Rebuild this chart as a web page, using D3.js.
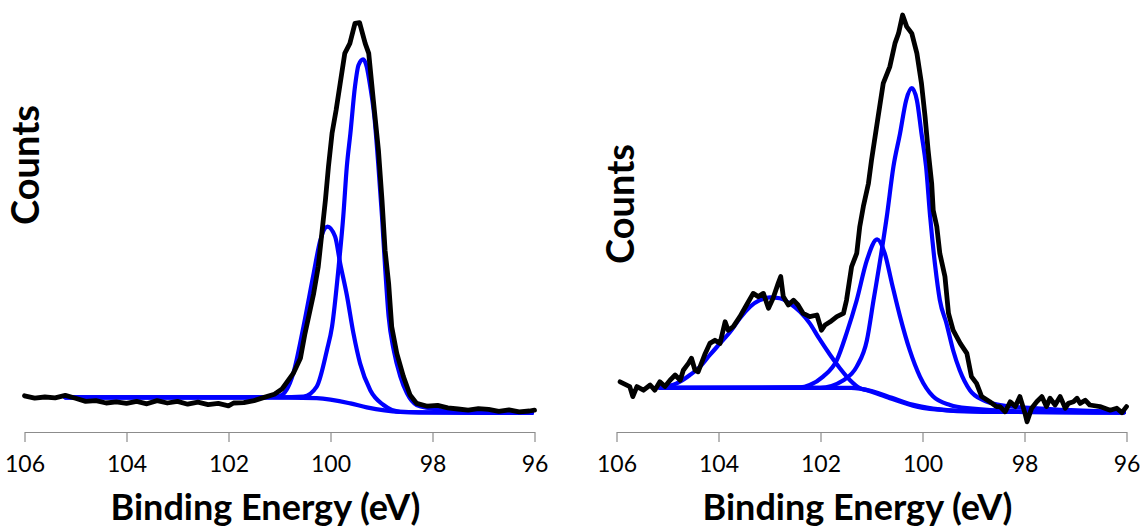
<!DOCTYPE html>
<html>
<head>
<meta charset="utf-8">
<script src="https://cdn.jsdelivr.net/npm/d3@7"></script>
<style>
  body { margin: 0; background: #fff; }
  svg { display: block; }
</style>
</head>
<body>
<svg id="chart"></svg>
<script>
// Binding energy ticks (eV), shared by both panels
const energyTicks = [106, 104, 102, 100, 98, 96];

// Left panel: measured spectrum [eV, counts a.u.]
const leftMeasured = [
  [106.0, 4.8], [105.8, 4.2], [105.6, 4.5], [105.4, 4.3], [105.2, 4.9], [105.0, 4.2],
  [104.8, 3.4], [104.6, 3.6], [104.4, 3.0], [104.2, 3.3], [104.0, 2.9], [103.8, 3.4],
  [103.6, 2.8], [103.4, 3.6], [103.2, 3.0], [103.0, 3.4], [102.8, 2.7], [102.6, 3.2],
  [102.4, 2.6], [102.2, 2.9], [102.0, 2.3], [101.9, 3.0], [101.7, 3.1], [101.5, 3.6],
  [101.3, 4.4], [101.1, 5.2], [100.95, 6.5], [100.73, 10.4], [100.59, 14.2], [100.5, 20.4],
  [100.33, 30.4], [100.24, 37.1], [100.17, 45.4], [100.1, 53.7], [100.04, 62.1], [99.97, 70.4],
  [99.89, 76.2], [99.81, 82.9], [99.72, 90.4], [99.62, 92.9], [99.52, 97.9], [99.43, 98.1],
  [99.32, 92.9], [99.25, 90.4], [99.16, 78.7], [99.06, 66.2], [98.99, 53.7], [98.93, 41.2],
  [98.86, 32.9], [98.8, 22.1], [98.7, 15.4], [98.57, 9.6], [98.44, 5.0], [98.31, 2.9],
  [98.1, 2.2], [97.9, 2.4], [97.7, 1.8], [97.5, 1.5], [97.3, 1.2], [97.1, 1.6],
  [96.9, 1.4], [96.7, 0.9], [96.5, 1.3], [96.3, 0.8], [96.1, 1.0], [96.0, 1.2]
];

// Left panel: fitted components
const leftPeakMain = [
  [105.2, 4.4], [101.0, 4.4], [100.53, 4.6], [100.27, 7.1], [100.07, 16.2], [99.97, 22.1],
  [99.84, 37.1], [99.75, 49.6], [99.68, 62.1], [99.61, 70.4], [99.52, 82.1], [99.45, 87.5],
  [99.36, 88.9], [99.29, 87.1], [99.22, 82.1], [99.14, 74.6], [99.06, 62.1], [98.99, 49.6],
  [98.93, 37.1], [98.86, 24.6], [98.76, 16.2], [98.63, 9.6], [98.5, 5.4], [98.31, 2.5],
  [98.05, 1.7], [97.5, 0.8], [96.05, 0.5]
];
const leftPeakSecond = [
  [105.2, 4.4], [101.3, 4.4], [100.99, 4.8], [100.73, 10.4], [100.53, 22.1], [100.33, 35.4],
  [100.2, 43.7], [100.06, 47.1], [99.91, 44.6], [99.81, 37.9], [99.68, 30.0], [99.55, 20.4],
  [99.42, 12.9], [99.22, 6.2], [98.96, 2.5], [98.63, 0.8], [97.5, 0.6], [96.05, 0.5]
];
const leftBackground = [
  [105.2, 4.4], [101.4, 4.4], [100.27, 4.2], [99.61, 2.9], [99.29, 1.9], [98.63, 0.8],
  [97.65, 0.6], [96.05, 0.5]
];

// Right panel: measured spectrum
const rightMeasured = [
  [105.93, 8.3], [105.74, 7.1], [105.68, 4.6], [105.6, 7.1], [105.47, 6.2], [105.34, 7.5],
  [105.25, 6.2], [105.15, 8.3], [105.05, 7.1], [104.95, 8.7], [104.85, 10.0], [104.75, 8.7],
  [104.69, 11.2], [104.59, 12.9], [104.53, 14.2], [104.46, 11.2], [104.4, 10.8], [104.26, 15.4],
  [104.17, 17.9], [104.07, 18.7], [103.97, 17.9], [103.87, 23.3], [103.81, 21.2], [103.71, 22.1],
  [103.58, 24.6], [103.45, 27.5], [103.32, 30.4], [103.22, 29.6], [103.12, 30.4], [103.02, 26.7],
  [102.93, 29.2], [102.83, 32.9], [102.78, 34.6], [102.73, 29.6], [102.63, 27.5], [102.53, 28.7],
  [102.44, 27.5], [102.34, 25.4], [102.21, 24.6], [102.07, 25.0], [101.98, 21.2], [101.91, 22.5],
  [101.81, 23.3], [101.68, 24.6], [101.55, 25.4], [101.49, 28.7], [101.39, 37.1], [101.29, 40.4],
  [101.23, 47.1], [101.16, 52.1], [101.06, 57.9], [101.0, 63.7], [100.87, 74.6], [100.77, 82.9],
  [100.64, 87.1], [100.54, 92.9], [100.47, 95.4], [100.39, 100.0], [100.31, 97.1], [100.21, 95.4],
  [100.11, 90.4], [100.02, 82.9], [99.95, 74.6], [99.89, 66.2], [99.82, 57.9], [99.79, 51.2],
  [99.72, 47.1], [99.66, 40.4], [99.56, 34.6], [99.49, 25.4], [99.4, 21.2], [99.26, 17.9],
  [99.13, 15.4], [99.04, 9.6], [98.94, 7.9], [98.84, 4.6], [98.68, 3.3], [98.55, 2.1],
  [98.48, 2.1], [98.38, 0.8], [98.28, 3.3], [98.18, 2.1], [98.09, 4.6], [97.99, 0.4],
  [97.95, -1.7], [97.86, 1.7], [97.76, 3.3], [97.66, 4.6], [97.57, 2.1], [97.5, 4.2],
  [97.4, 2.5], [97.3, 4.6], [97.2, 1.7], [97.14, 2.9], [97.04, 3.3], [96.97, 4.2],
  [96.91, 2.9], [96.81, 3.7], [96.72, 2.5], [96.52, 2.1], [96.32, 1.2], [96.19, 1.7],
  [96.09, 0.6], [96.0, 2.1]
];

// Right panel: fitted components
const rightPeakBroad = [
  [105.15, 6.8], [104.82, 7.9], [104.56, 10.0], [104.36, 12.1], [104.17, 15.0], [103.97, 17.9],
  [103.77, 20.8], [103.58, 24.2], [103.38, 27.1], [103.19, 28.7], [102.99, 29.4], [102.8, 29.2],
  [102.6, 27.9], [102.4, 25.8], [102.21, 22.9], [102.03, 19.2], [101.81, 15.0], [101.62, 11.7],
  [101.42, 8.7], [101.23, 6.7], [101.09, 6.2], [100.64, 4.2], [100.11, 2.1], [99.46, 1.1],
  [98.81, 0.8], [96.05, 0.6]
];
const rightPeakMain = [
  [105.15, 6.8], [102.4, 6.9], [102.01, 6.8], [101.55, 8.7], [101.29, 12.1], [101.09, 18.7],
  [100.96, 28.7], [100.83, 38.7], [100.7, 49.6], [100.57, 62.1], [100.44, 70.4], [100.32, 78.7],
  [100.21, 81.7], [100.11, 78.7], [100.02, 70.4], [99.93, 62.1], [99.85, 49.6], [99.75, 37.1],
  [99.66, 28.7], [99.53, 22.9], [99.4, 16.2], [99.27, 11.2], [99.07, 6.2], [98.81, 3.7],
  [98.48, 2.5], [97.83, 1.7], [96.05, 0.8]
];
const rightPeakSecond = [
  [105.15, 6.8], [102.4, 6.9], [102.21, 7.5], [101.95, 9.6], [101.68, 13.7], [101.49, 20.4],
  [101.29, 28.7], [101.09, 38.7], [100.89, 43.9], [100.74, 40.4], [100.6, 32.9], [100.44, 24.6],
  [100.25, 16.2], [100.05, 9.6], [99.79, 4.6], [99.46, 2.5], [99.13, 1.7], [98.0, 0.9],
  [96.05, 0.7]
];
const rightBackground = [
  [105.15, 6.8], [101.4, 6.8], [101.0, 6.0], [100.6, 4.3], [100.2, 2.6], [99.8, 1.6],
  [99.2, 1.0], [96.05, 0.6]
];

const width = 1144, height = 527;
const axisY = 432;
const font = "Lato, 'Open Sans', sans-serif";

const panels = [
  {
    x0: 24.5, x1: 534.5, labelX: 26, labelY: 165,
    measured: leftMeasured,
    fits: [leftBackground, leftPeakSecond, leftPeakMain]
  },
  {
    x0: 616.5, x1: 1126.5, labelX: 621, labelY: 204,
    measured: rightMeasured,
    fits: [rightBackground, rightPeakBroad, rightPeakSecond, rightPeakMain]
  }
];

const svg = d3.select("#chart")
    .attr("width", width)
    .attr("height", height)
    .attr("viewBox", [0, 0, width, height]);

const y = d3.scaleLinear().domain([0, 100]).range([415, 15]);

panels.forEach(p => {
  const x = d3.scaleLinear().domain([106, 96]).range([p.x0, p.x1]);

  const xAxis = d3.axisBottom(x)
      .tickValues(energyTicks)
      .tickFormat(d3.format("d"))
      .tickSizeInner(10)
      .tickSizeOuter(0)
      .tickPadding(14);

  svg.append("g")
      .attr("transform", `translate(0,${axisY})`)
      .call(xAxis)
      .call(g => g.select(".domain").attr("stroke", "#8c8c8c").attr("stroke-width", 1.2))
      .call(g => g.selectAll(".tick line").attr("stroke", "#8c8c8c").attr("stroke-width", 1.2))
      .call(g => g.selectAll(".tick text")
          .attr("fill", "#000")
          .attr("font-family", font)
          .attr("font-size", 23));

  svg.append("text")
      .attr("x", (p.x0 + p.x1) / 2 - 14)
      .attr("y", 520)
      .attr("text-anchor", "middle")
      .attr("font-family", font)
      .attr("font-weight", "bold")
      .attr("font-size", 36)
      .text("Binding Energy (eV)");

  svg.append("text")
      .attr("transform", `translate(${p.labelX},${p.labelY}) rotate(-90)`)
      .attr("dy", "0.35em")
      .attr("text-anchor", "middle")
      .attr("font-family", font)
      .attr("font-weight", "bold")
      .attr("font-size", 38)
      .text("Counts");

  const smooth = d3.line()
      .curve(d3.curveMonotoneX)
      .x(d => x(d[0]))
      .y(d => y(d[1]));

  const jagged = d3.line()
      .curve(d3.curveLinear)
      .x(d => x(d[0]))
      .y(d => y(d[1]));

  svg.append("g")
      .attr("fill", "none")
      .attr("stroke", "#0000ff")
      .attr("stroke-width", 4.2)
      .attr("stroke-linejoin", "round")
      .attr("stroke-linecap", "round")
    .selectAll("path")
    .data(p.fits)
    .join("path")
      .attr("d", smooth);

  svg.append("path")
      .datum(p.measured)
      .attr("fill", "none")
      .attr("stroke", "#000")
      .attr("stroke-width", 4.8)
      .attr("stroke-linejoin", "round")
      .attr("stroke-linecap", "round")
      .attr("d", jagged);
});
</script>
</body>
</html>
